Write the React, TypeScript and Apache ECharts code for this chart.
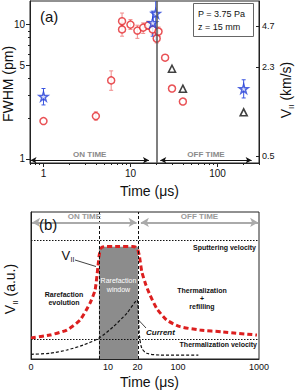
import React, { useEffect, useRef } from 'react';
import * as echarts from 'echarts';

const FONT = 'Liberation Sans, Arial, Helvetica, sans-serif';

// ---------- Panel (a) data ----------
const redTime = [1, 4, 6, 8, 8, 10, 12, 14, 16, 18, 20, 21, 25, 30, 40];
const redFwhm = [1.91, 2.08, 3.84, 10.6, 9.21, 10.0, 9.03, 9.5, 9.86, 9.21, 7.88, 8.88, 5.67, 3.34, 2.67];
const redLow = [1.91, 1.94, 3.24, 9.6, 8.2, 9.2, 7.9, 8.6, 9.2, 8.5, 7.3, 8.2, 5.67, 3.34, 2.67];
const redHigh = [1.91, 2.24, 4.52, 12.2, 10.3, 10.9, 9.9, 10.3, 10.6, 10.0, 8.5, 9.6, 5.67, 3.34, 2.67];
const triTime = [30, 40, 200];
const triFwhm = [4.69, 3.33, 2.22];
const starTime = [1, 18, 19.5, 200];
const starFwhm = [2.91, 10.3, 12.1, 3.33];
const starLow = [2.52, 8.2, 7.7, 2.84];
const starHigh = [3.34, 12.6, 19, 3.88];
const xMajor = [1, 10, 100];
const xMinor = [0.7, 0.8, 0.9, 2, 3, 4, 5, 6, 7, 8, 9, 20, 30, 40, 50, 60, 70, 80, 90, 200, 300];
const yMajor = [1, 5, 10];
const yMinor = [2, 3, 4, 6, 7, 8, 9];
const vTicks = [0.5, 2.3, 4.7];
const VEL_PER_FWHM = 0.48;
const FWHM_MIN = 0.93;
const FWHM_MAX = 15;
const T_MIN = 0.7;
const T_MAX = 300;
const PULSE_END = 20;

// ---------- Panel (b) data (schematic) ----------
const bTickPos = [0, 33.8, 46.7, 64.5, 100];
const bTickLabels = ['0', '10', '20', '100', '1000'];
const vS = [0, 8.3, 15.7, 21.5, 25.9, 28.1, 29.3, 29.9, 30.5, 31.4, 33, 38, 44.5, 45.9, 46.8, 47.5, 48.6, 50.4, 52.2, 55.1, 59.5, 65.4, 74.1, 84.2, 99.1];
const vAU = [14.3, 16.3, 19.7, 26.5, 38.1, 46.9, 62, 70.5, 74.8, 76.2, 76.5, 76.5, 76.5, 76.1, 74.5, 70.5, 59.4, 50.3, 43.5, 34.5, 26.5, 22, 19.7, 18.4, 16.3];
const curS = [0, 8.3, 15.7, 22.9, 29.7, 36.1, 42, 46.5, 47.1, 47.6, 48.6, 50.7, 56.6, 73.4];
const curAU = [3.2, 3.9, 6.1, 9.5, 14.1, 22, 31.1, 40.1, 27.9, 15.2, 7.3, 3.9, 2.7, 2.7];
const windowStart = 29.8;
const windowEnd = 46.9;
const windowTop = 76.4;
const sputterLevel = 81;
const thermLevel = 13.6;

const STAR = 'path://M50,0 L61,35 L98,35 L68,57 L79,91 L50,70 L21,91 L32,57 L2,35 L39,35 Z';
const AX = '#222';

function errorBars(xs: number[], lo: number[], hi: number[], color: string) {
  return {
    type: 'custom',
    xAxisIndex: 0,
    yAxisIndex: 0,
    clip: true,
    z: 2,
    silent: true,
    data: xs.map((x, i) => [x, lo[i], hi[i]]),
    renderItem: (params: any, api: any) => {
      const x = api.value(0);
      const l = api.value(1);
      const h = api.value(2);
      if (!(h > l)) return null;
      const p1 = api.coord([x, h]);
      const p2 = api.coord([x, l]);
      const w = 2;
      const st = { stroke: color, lineWidth: 1 };
      return {
        type: 'group',
        children: [
          { type: 'line', shape: { x1: p1[0], y1: p1[1], x2: p2[0], y2: p2[1] }, style: st },
          { type: 'line', shape: { x1: p1[0] - w, y1: p1[1], x2: p1[0] + w, y2: p1[1] }, style: st },
          { type: 'line', shape: { x1: p2[0] - w, y1: p2[1], x2: p2[0] + w, y2: p2[1] }, style: st },
        ],
      };
    },
  };
}

function txt(x: number, y: number, text: string, size: number, opts: any = {}) {
  return {
    type: 'text',
    x,
    y,
    z: 100,
    style: {
      text,
      fontSize: size,
      fontFamily: FONT,
      fill: opts.fill || '#111',
      fontWeight: opts.weight || 'normal',
      fontStyle: opts.style || 'normal',
      align: opts.align || 'left',
      verticalAlign: 'middle',
    },
  };
}

function ln(x1: number, y1: number, x2: number, y2: number) {
  return { type: 'line', z: 100, shape: { x1, y1, x2, y2 }, style: { stroke: '#111', lineWidth: 0.8 } };
}

export default function App() {
  const ref = useRef<HTMLDivElement>(null);
  useEffect(() => {
    document.body.style.margin = '0';
    const chart = echarts.init(ref.current!, null, { renderer: 'svg' });
    const nameStyle = { fontSize: 14, color: '#111', fontFamily: FONT };
    const option: any = {
      animation: false,
      textStyle: { fontFamily: FONT },
      grid: [
        { left: 30, right: 37, top: 1, height: 162, show: true, borderColor: AX, borderWidth: 1, outerBoundsMode: 'none' },
        { left: 31, right: 37, top: 212, height: 147, show: true, borderColor: AX, borderWidth: 1, outerBoundsMode: 'none' },
      ],
      xAxis: [
        {
          type: 'log', gridIndex: 0, position: 'bottom', min: T_MIN, max: T_MAX,
          axisLine: { lineStyle: { color: AX } },
          axisTick: { customValues: xMajor, length: 4, lineStyle: { color: AX } },
          axisLabel: { customValues: xMajor, fontSize: 10, color: '#111', margin: 5 },
          splitLine: { show: false }, minorTick: { show: false },
          name: 'Time (μs)', nameLocation: 'middle', nameGap: 21, nameMoveOverlap: false,
          nameTextStyle: { ...nameStyle, padding: [0, 0, 0, 10] },
        },
        {
          type: 'log', gridIndex: 0, position: 'bottom', min: T_MIN, max: T_MAX,
          axisLine: { show: false },
          axisTick: { customValues: xMinor, length: 2, lineStyle: { color: AX } },
          axisLabel: { show: false }, splitLine: { show: false },
        },
        {
          type: 'value', gridIndex: 1, position: 'bottom', min: 0, max: 100,
          axisLine: { lineStyle: { color: AX } },
          axisTick: { show: false },
          axisLabel: {
            customValues: bTickPos, fontSize: 9, color: '#111', margin: 3,
            formatter: (v: number) => {
              const i = bTickPos.findIndex((p) => Math.abs(p - v) < 1e-6);
              return i >= 0 ? bTickLabels[i] : '';
            },
          },
          splitLine: { show: false },
          name: 'Time (μs)', nameLocation: 'middle', nameGap: 16, nameMoveOverlap: false,
          nameTextStyle: { ...nameStyle, padding: [0, 0, 0, 9] },
        },
      ],
      yAxis: [
        {
          type: 'log', gridIndex: 0, position: 'left', min: FWHM_MIN, max: FWHM_MAX,
          axisLine: { lineStyle: { color: AX } },
          axisTick: { customValues: yMajor, length: 4, lineStyle: { color: AX } },
          axisLabel: { customValues: yMajor, fontSize: 10, color: '#111', margin: 5 },
          splitLine: { show: false },
          name: 'FWHM (pm)', nameLocation: 'middle', nameGap: 15, nameMoveOverlap: false,
          nameTextStyle: { ...nameStyle, padding: [0, 4, 0, 0] },
        },
        {
          type: 'log', gridIndex: 0, position: 'left', min: FWHM_MIN, max: FWHM_MAX,
          axisLine: { show: false },
          axisTick: { customValues: yMinor, length: 2, lineStyle: { color: AX } },
          axisLabel: { show: false }, splitLine: { show: false },
        },
        {
          type: 'log', gridIndex: 0, position: 'right',
          min: FWHM_MIN * VEL_PER_FWHM, max: FWHM_MAX * VEL_PER_FWHM,
          axisLine: { lineStyle: { color: AX } },
          axisTick: { customValues: vTicks, length: 3, inside: true, lineStyle: { color: AX } },
          axisLabel: { customValues: vTicks, fontSize: 9, color: '#111', margin: 3 },
          splitLine: { show: false },
          name: '{v|V}{s|II} (km/s)', nameLocation: 'middle', nameGap: 18, nameMoveOverlap: false,
          nameTextStyle: {
            ...nameStyle, lineHeight: 18, padding: [0, 16, 0, 0],
            rich: { v: { fontSize: 14, lineHeight: 18, fontFamily: FONT, color: '#111' }, s: { fontSize: 8, lineHeight: 9, verticalAlign: 'bottom', fontFamily: FONT, color: '#111' } },
          },
        },
        {
          type: 'value', gridIndex: 1, min: 0, max: 100,
          axisLine: { lineStyle: { color: AX } },
          axisTick: { show: false }, axisLabel: { show: false }, splitLine: { show: false },
          name: '{v|V}{s|II} (a.u.)', nameLocation: 'middle', nameGap: 12, nameMoveOverlap: false,
          nameTextStyle: {
            ...nameStyle, lineHeight: 18, padding: [0, 7, 0, 0],
            rich: { v: { fontSize: 14, lineHeight: 18, fontFamily: FONT, color: '#111' }, s: { fontSize: 8, lineHeight: 9, verticalAlign: 'bottom', fontFamily: FONT, color: '#111' } },
          },
        },
      ],
      series: [
        errorBars(redTime, redLow, redHigh, '#f08a8a'),
        errorBars(starTime, starLow, starHigh, '#3a55e0'),
        {
          type: 'scatter', xAxisIndex: 0, yAxisIndex: 0, z: 3, silent: true,
          symbol: 'circle', symbolSize: 7,
          itemStyle: { color: '#fff', borderColor: '#e3262a', borderWidth: 1.5 },
          data: redTime.map((t, i) => [t, redFwhm[i]]),
        },
        {
          type: 'scatter', xAxisIndex: 0, yAxisIndex: 0, z: 3, silent: true,
          symbol: 'triangle', symbolSize: 7,
          itemStyle: { color: '#fff', borderColor: '#111', borderWidth: 1.6 },
          data: triTime.map((t, i) => [t, triFwhm[i]]),
        },
        {
          type: 'scatter', xAxisIndex: 0, yAxisIndex: 0, z: 3, silent: true,
          symbol: STAR, symbolSize: 9,
          itemStyle: { color: '#fff', borderColor: '#2540d8', borderWidth: 1.5 },
          data: starTime.map((t, i) => [t, starFwhm[i]]),
        },
        {
          type: 'line', xAxisIndex: 0, yAxisIndex: 0, data: [], silent: true,
          markLine: {
            silent: true, symbol: ['none', 'none'], label: { show: false },
            lineStyle: { color: '#555', width: 1.5, type: 'solid' },
            data: [{ xAxis: PULSE_END }],
          },
        },
        {
          type: 'line', xAxisIndex: 0, yAxisIndex: 0, data: [], silent: true,
          markLine: {
            silent: true, symbol: ['arrow', 'arrow'], symbolSize: [5, 6],
            lineStyle: { color: '#111', width: 1, type: 'solid' },
            label: { show: true, position: 'middle', formatter: '{b}', color: '#8a8a8a', fontWeight: 'bold', fontSize: 8, distance: 2, fontFamily: FONT },
            data: [
              [{ coord: [0.71, 0.975], name: 'ON TIME' }, { coord: [16.3, 0.975] }],
              [{ coord: [22, 0.975], name: 'OFF TIME' }, { coord: [247, 0.975] }],
            ],
          },
        },
        // Panel (b)
        {
          type: 'line', xAxisIndex: 2, yAxisIndex: 3, data: [], silent: true, z: 1,
          markArea: {
            silent: true, itemStyle: { color: '#8c8c8c', opacity: 1 },
            data: [[{ coord: [windowStart, 0] }, { coord: [windowEnd, windowTop] }]],
          },
        },
        {
          type: 'line', xAxisIndex: 2, yAxisIndex: 3, data: [], silent: true, z: 2,
          markLine: {
            silent: true, symbol: ['none', 'none'], label: { show: false },
            data: [
              { xAxis: windowStart, lineStyle: { color: '#111', width: 1, type: [3, 2] } },
              { xAxis: windowEnd, lineStyle: { color: '#111', width: 1, type: [3, 2] } },
              { yAxis: sputterLevel, lineStyle: { color: '#111', width: 1.2, type: [1.5, 1.5] } },
              { yAxis: thermLevel, lineStyle: { color: '#111', width: 1.2, type: [1.5, 1.5] } },
            ],
          },
        },
        {
          type: 'line', xAxisIndex: 2, yAxisIndex: 3, z: 4, silent: true,
          smooth: 0.2, showSymbol: false, symbol: 'none',
          lineStyle: { color: '#dc1f1f', width: 3, type: [5, 3] },
          data: vS.map((s, i) => [s, vAU[i]]),
        },
        {
          type: 'line', xAxisIndex: 2, yAxisIndex: 3, z: 4, silent: true,
          smooth: 0.25, showSymbol: false, symbol: 'none',
          lineStyle: { color: '#111', width: 1.2, type: [3, 2] },
          data: curS.map((s, i) => [s, curAU[i]]),
        },
        {
          type: 'line', xAxisIndex: 2, yAxisIndex: 3, data: [], silent: true,
          markLine: {
            silent: true, symbol: ['arrow', 'arrow'], symbolSize: [7, 8],
            lineStyle: { color: '#aaaaaa', width: 2, type: 'solid' },
            label: { show: true, position: 'middle', formatter: '{b}', color: '#999', fontWeight: 'bold', fontSize: 8, distance: 2, fontFamily: FONT },
            data: [
              [{ coord: [0.5, 92.9], name: 'ON TIME' }, { coord: [46.3, 92.9] }],
              [{ coord: [48.2, 92.9], name: 'OFF TIME' }, { coord: [99.6, 92.9] }],
            ],
          },
        },
      ],
      graphic: [
        txt(40, 16, '(a)', 15),
        { type: 'rect', z: 99, shape: { x: 193.5, y: 3.5, width: 60, height: 33 }, style: { fill: '#fff', stroke: '#666', lineWidth: 1 } },
        txt(198, 14, 'P = 3.75 Pa', 9),
        txt(198, 27, 'z = 15 mm', 9),
        txt(39, 224, '(b)', 15),
        txt(61.5, 255, 'V', 13),
        txt(70.5, 259.5, 'II', 7),
        ln(75, 260, 96, 266.5),
        txt(64, 294, 'Rarefaction', 7, { weight: 'bold', align: 'center' }),
        txt(64, 302.5, 'evolution', 7, { weight: 'bold', align: 'center' }),
        txt(118.5, 280, 'Rarefaction', 7, { fill: '#fff', align: 'center' }),
        txt(118.5, 289, 'window', 7, { fill: '#fff', align: 'center' }),
        txt(202, 290, 'Thermalization', 7, { weight: 'bold', align: 'center' }),
        txt(202, 298.3, '+', 7, { weight: 'bold', align: 'center' }),
        txt(202, 306.7, 'refilling', 7, { weight: 'bold', align: 'center' }),
        txt(256, 247.3, 'Sputtering velocity', 7, { weight: 'bold', align: 'right' }),
        txt(257, 344.5, 'Thermalization velocity', 7, { weight: 'bold', align: 'right' }),
        txt(146, 332.5, 'Current', 8, { weight: 'bold', style: 'italic' }),
        ln(138.5, 320, 146, 328),
      ],
    };
    chart.setOption(option);
    return () => chart.dispose();
  }, []);
  return <div ref={ref} style={{ width: 296, height: 391 }} />;
}
